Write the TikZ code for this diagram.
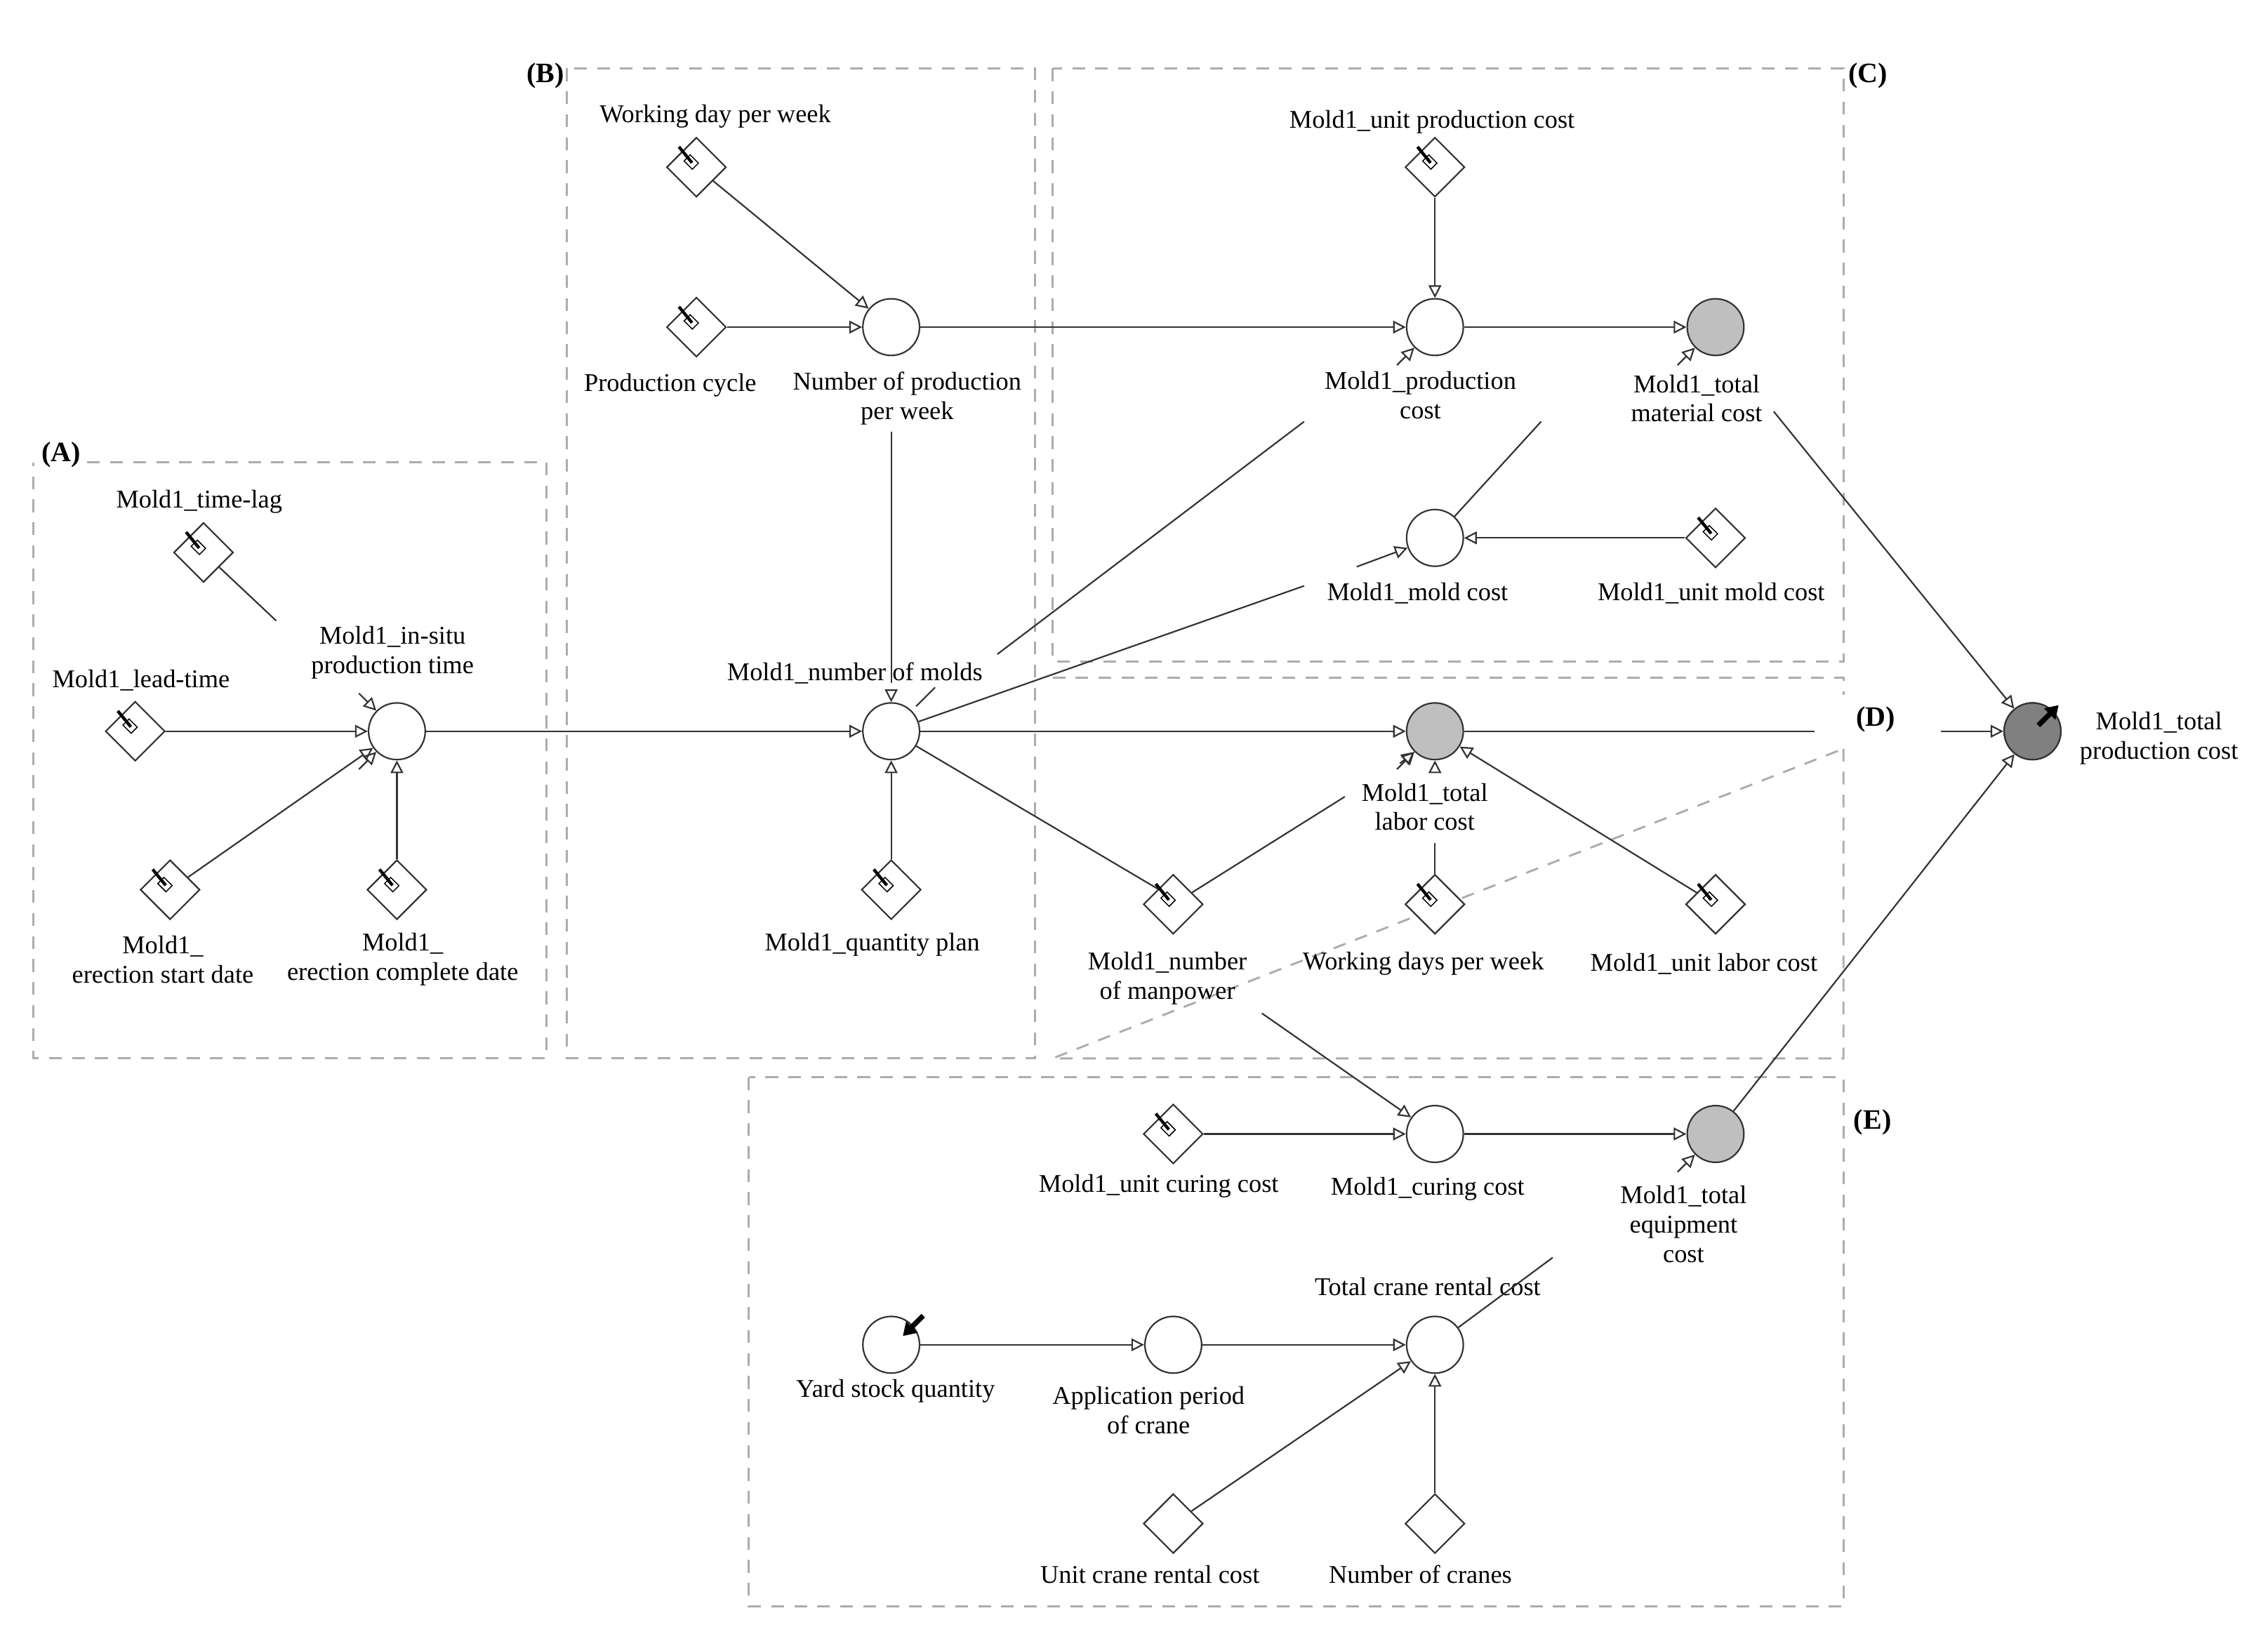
\documentclass[tikz,border=0pt]{standalone}
\usepackage{fontspec}
\setmainfont{Liberation Serif}
\usetikzlibrary{shapes.geometric,arrows.meta}
\begin{document}
\begin{tikzpicture}[x=0.02cm,y=-0.02cm,
  font=\fontsize{10}{11.5}\selectfont,
  lbl/.style={align=center,inner sep=0pt},
  box/.style={draw=gray!65,dashed,line width=0.8pt,dash pattern=on 5pt off 4pt},
  ln/.style={draw=gray!40!black,line width=0.6pt},
  conn/.style={ln,-{Triangle[open,length=5pt,width=5pt]}},
  cv/.style={circle,draw=gray!40!black,line width=0.6pt,minimum size=0.78cm,inner sep=0pt,fill=white},
  dv/.style={diamond,draw=gray!40!black,line width=0.6pt,minimum size=0.82cm,inner sep=0pt,fill=white},
  pin/.pic={\draw[line width=0.4pt,fill=white,rotate=45] (-3,-9) rectangle (3,-1);
            \draw[line width=1.2pt] (-12,-14) -- (-3,-3);}
]
\useasboundingbox (0,0) rectangle (1560,1122.5);
% boxes
\draw[box] (60,318) -- (376,318) -- (376,728) -- (23,728) -- (23,318);
\draw[box] (390,47) rectangle (712,728);
\draw[box] (724,47) rectangle (1268,455);
\draw[box] (724,466) -- (1268,466) -- (1268,478);
\draw[box] (1268,515) -- (1268,728) -- (724,728) -- cycle;
\draw[box] (515,741) rectangle (1268,1105);
\node[lbl,font=\fontsize{11}{12}\selectfont\bfseries] (LA) at (42,313) {(A)};
\node[lbl,font=\fontsize{11}{12}\selectfont\bfseries] (LB) at (375,52) {(B)};
\node[lbl,font=\fontsize{11}{12}\selectfont\bfseries] (LC) at (1285,52) {(C)};
\node[lbl,font=\fontsize{11}{12}\selectfont\bfseries] (LD) at (1290,495) {(D)};
\node[lbl,font=\fontsize{11}{12}\selectfont\bfseries] (LE) at (1288,772) {(E)};
% diamonds
\foreach \n/\x/\y in {tl/140/380, lt/93/503, es/117/612, ec/273/612, wd/479/115, pc/479/225, qp/613/612, upc/987/115, umc/1180/370, mp/807/622, wdw/987/622, ulc/1180/622, ucc/807/780}
 {\node[dv] (\n) at (\x,\y) {}; \pic at (\x,\y) {pin};}
\node[dv] (ucr) at (807,1048) {};
\node[dv] (nc) at (987,1048) {};
% circles
\foreach \n/\x/\y/\f in {ins/273/503/white, npw/613/225/white, nm/613/503/white, prc/987/225/white, tmc/1180/225/gray!50, mc/987/370/white, tlc/987/503/gray!50, cc/987/780/white, tec/1180/780/gray!50, ys/613/925/white, ap/807/925/white, crc/987/925/white}
 \node[cv,fill=\f] (\n) at (\x,\y) {};
\node[cv,fill=gray!140!black!60] (tot) at (1398,503) {};
\node[cv,fill=gray] (tot) at (1398,503) {};
\draw[line width=2pt,-{Triangle[length=5pt,width=6pt]}] (tot.center) ++(4,-4) -- ++(14,-14);
\draw[line width=2pt,-{Triangle[length=5pt,width=6pt]}] (ys.center) ++(22,-20) -- ++(-14,14);
% labels
\node[lbl] (t1) at (137,345) {Mold1\_time-lag};
\node[lbl] (t2) at (97,468) {Mold1\_lead-time};
\node[lbl] (t3) at (270,449) {Mold1\_in-situ\\production time};
\node[lbl] (t4) at (112,660) {Mold1\_\\erection start date};
\node[lbl] (t5) at (277,660) {Mold1\_\\erection complete date};
\node[lbl] (t6) at (492,80) {Working day per week};
\node[lbl] (t7) at (461,265) {Production cycle};
\node[lbl] (t8) at (624,274) {Number of production\\per week};
\node[lbl] (t9) at (588,463) {Mold1\_number of molds};
\node[lbl] (t10) at (600,650) {Mold1\_quantity plan};
\node[lbl] (t11) at (985,84) {Mold1\_unit production cost};
\node[lbl] (t12) at (977,272) {Mold1\_production\\cost};
\node[lbl] (t13) at (1167,274) {Mold1\_total\\material cost};
\node[lbl] (t14) at (975,408) {Mold1\_mold cost};
\node[lbl] (t15) at (1177,408) {Mold1\_unit mold cost};
\node[lbl] (t16) at (980,555) {Mold1\_total\\labor cost};
\node[lbl] (t17) at (803,673) {Mold1\_number\\of manpower};
\node[lbl] (t18) at (979,663) {Working days per week};
\node[lbl] (t19) at (1172,663) {Mold1\_unit labor cost};
\node[lbl] (t20) at (1485,508) {Mold1\_total\\production cost};
\node[lbl] (t21) at (797,816) {Mold1\_unit curing cost};
\node[lbl] (t22) at (982,818) {Mold1\_curing cost};
\node[lbl] (t23) at (1158,842) {Mold1\_total\\equipment\\cost};
\node[lbl] (t24) at (982,885) {Total crane rental cost};
\node[lbl] (t25) at (616,957) {Yard stock quantity};
\node[lbl] (t26) at (790,970) {Application period\\of crane};
\node[lbl] (t27) at (791,1083) {Unit crane rental cost};
\node[lbl] (t28) at (977,1083) {Number of cranes};
% free ends
\coordinate (a1) at (190,427);
\coordinate (a2) at (897,290);
\coordinate (a3) at (686,450);
\coordinate (a4) at (897,403);
\coordinate (a5) at (1060,290);
\coordinate (a6) at (1248,503);
\coordinate (a7) at (1335,503);
\coordinate (a8) at (1220,283);
\coordinate (a9) at (925,548);
\coordinate (a10) at (987,580);
\coordinate (a11) at (868,697);
\coordinate (a12) at (1068,865);
\coordinate (a13) at (613,297);
\coordinate (a14) at (613,470);
% connectors
\draw[ln] (tl) -- (a1);
\draw[conn] (lt) -- (ins);
\draw[conn] (es) -- (ins);
\draw[conn] (ec) -- (ins);
\draw[conn] (ins) -- (nm);
\draw[conn] (wd) -- (npw);
\draw[conn] (pc) -- (npw);
\draw[conn] (npw) -- (prc);
\draw[ln] (a13) -- (a14);
\draw[conn] (qp) -- (nm);
\draw[conn] (upc) -- (prc);
\draw[conn] (prc) -- (tmc);
\draw[ln] (a3) -- (a2);
\draw[ln] (nm) -- (a4);
\draw[ln] (a5) -- (mc);
\draw[conn] (umc) -- (mc);
\draw[conn] (nm) -- (tlc);
\draw[ln] (tlc) -- (a6);
\draw[conn] (a7) -- (tot);
\draw[conn] (a8) -- (tot);
\draw[conn] (tec) -- (tot);
\draw[ln] (nm) -- (mp.north west);
\draw[ln] (mp) -- (a9);
\draw[ln] (wdw) -- (a10);
\draw[conn] (ulc) -- (tlc);
\draw[conn] (a11) -- (cc);
\draw[conn] (ucc) -- (cc);
\draw[conn] (cc) -- (tec);
\draw[ln] (crc) -- (a12);
\draw[conn] (ys) -- (ap);
\draw[conn] (ap) -- (crc);
\draw[conn] (ucr) -- (crc);
\draw[conn] (nc) -- (crc);
% stubs
\foreach \n in {ins,prc,tmc,tlc,tec}
  \draw[conn] ([shift={(-12,12)}]\n.225) -- (\n.225);
\draw[conn] ([shift={(-12,-12)}]ins.135) -- (ins.135);
\draw[conn] ([shift={(-35,13)}]mc.200) -- (mc.200);
\draw[conn] ([shift={(0,-8)}]nm.north) -- (nm.north);
\draw[ln] ([shift={(3,-3)}]nm.45) -- ([shift={(16,-16)}]nm.45);
\draw[conn] ([shift={(-10,8)}]tlc.225) -- (tlc.225);
\draw[conn] ([shift={(0,8)}]tlc.south) -- (tlc.south);
\end{tikzpicture}
\end{document}
